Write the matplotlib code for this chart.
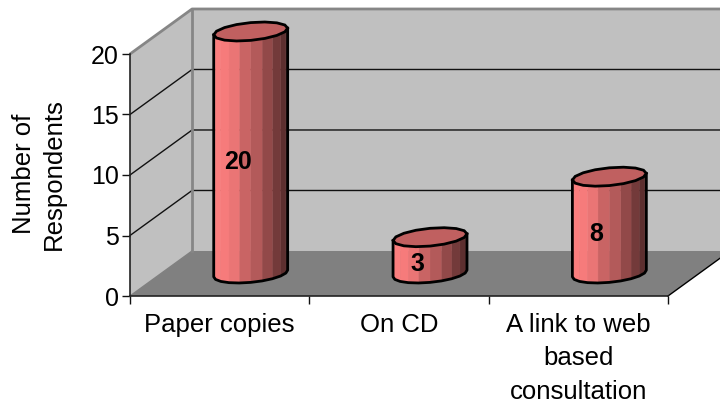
import numpy as np
import matplotlib.pyplot as plt
from matplotlib.colors import LinearSegmentedColormap
from matplotlib.patches import Polygon

plt.rcParams['font.family'] = ['Liberation Sans', 'DejaVu Sans']

categories = ['Paper copies', 'On CD', 'A link to web\nbased\nconsultation']
values = [20, 3, 8]
y_ticks = [0, 5, 10, 15, 20]

# depth of the fake 3d box, in data units
depth_x = 0.346
depth_y = 3.72
# cylinder footprint
cyl_w = 0.193
cyl_dx = 0.0725
cyl_dy = 0.785

W, H = 720, 407
fig = plt.figure(figsize=(7.2, 4.07), dpi=100)
ax = fig.add_axes([130 / W, 1 - 296 / H, 538 / W, 242 / H])
ax.set_xlim(0, 3)
ax.set_ylim(0, 20)
ax.patch.set_visible(False)

top = 20

# walls and floor
ax.add_patch(Polygon([(0, 0), (depth_x, depth_y), (depth_x, top + depth_y), (0, top)],
                     fc='#c0c0c0', ec='none', clip_on=False, zorder=1))
ax.add_patch(Polygon([(depth_x, depth_y), (3.4, depth_y), (3.4, top + depth_y), (depth_x, top + depth_y)],
                     fc='#c0c0c0', ec='none', clip_on=False, zorder=1))
ax.add_patch(Polygon([(0, 0), (3, 0), (3 + depth_x, depth_y), (depth_x, depth_y)],
                     fc='#808080', ec='none', clip_on=False, zorder=1))

# gridlines on both walls
for v in y_ticks[1:-1]:
    ax.plot([0, depth_x, 3.4], [v, v + depth_y, v + depth_y], color='#111111', lw=1,
            clip_on=False, zorder=2)
ax.plot([0, depth_x], [0, depth_y], color='#808080', lw=1, clip_on=False, zorder=2)

# grey wall edges
ax.plot([0, depth_x, 3.4], [top, top + depth_y, top + depth_y], color='#868686', lw=2,
        clip_on=False, zorder=2, solid_capstyle='butt')
ax.plot([depth_x, depth_x], [depth_y, top + depth_y], color='#868686', lw=2, clip_on=False, zorder=2)
ax.plot([3, 3 + depth_x], [0, depth_y], color='black', lw=1, clip_on=False, zorder=2)

shade = LinearSegmentedColormap.from_list('shade', [(0, '#ff8080'), (0.25, '#f07878'), (0.4, '#cc6666'),
                                                    (0.6, '#b05858'), (0.75, '#8c4646'), (1, '#4e2828')])

for i, val in enumerate(values):
    cx = i + 0.5 + depth_x / 2
    cy = depth_y / 2
    t0 = np.arctan2(cyl_dx, cyl_w)
    # front half of the cylinder, right to left going under
    t = np.linspace(t0, t0 - np.pi, 11)
    px = cx + cyl_w * np.cos(t) + cyl_dx * np.sin(t)
    py = cyl_dy * np.sin(t)
    # side facets, shaded by position across the body
    for j in range(len(t) - 1):
        frac = ((px[j] + px[j + 1]) / 2 - px.min()) / (px.max() - px.min())
        ax.fill([px[j], px[j + 1], px[j + 1], px[j]],
                [cy + py[j], cy + py[j + 1], cy + py[j + 1] + val, cy + py[j] + val],
                color=shade(frac), lw=0.3, clip_on=False, zorder=3)
    # top cap
    ta = np.linspace(t0, t0 + 2 * np.pi, 17)
    tx = cx + cyl_w * np.cos(ta) + cyl_dx * np.sin(ta)
    ty = cy + val + cyl_dy * np.sin(ta)
    ax.fill(tx, ty, fc='#c06060', ec='black', lw=2, clip_on=False, zorder=4)
    # outline of the body
    ax.plot(np.r_[px[0], px, px[-1]],
            np.r_[cy + val + py[0], cy + py, cy + val + py[-1]],
            color='black', lw=2, clip_on=False, zorder=4)
    ax.text(cx - cyl_dx, cy + val / 2 - 0.75, str(val), fontsize=18, fontweight='bold',
            ha='center', va='center', color='black', zorder=5)

for s in ['top', 'right']:
    ax.spines[s].set_visible(False)
for s in ['left', 'bottom']:
    ax.spines[s].set_color('#222222')
    ax.spines[s].set_linewidth(1.2)
    ax.spines[s].set_zorder(6)

ax.set_yticks(y_ticks)
ax.set_xticks([0, 1, 2, 3])
ax.set_xticklabels([])
ax.set_xticks([0.5, 1.5, 2.5], minor=True)
ax.set_xticklabels(categories, minor=True, fontsize=18.5, linespacing=1.5, va='top')
ax.tick_params(axis='x', which='minor', length=0, pad=12)
ax.tick_params(axis='x', which='major', length=6, width=1, color='#111111')
ax.tick_params(axis='y', length=6, width=1, color='#111111', labelsize=18, pad=2)

fig.text(39 / W, 1 - 174 / H, 'Number of\nRespondents', rotation=90, fontsize=18.5,
         ha='center', va='center', linespacing=1.35)

fig.savefig('out.png', dpi=100)
